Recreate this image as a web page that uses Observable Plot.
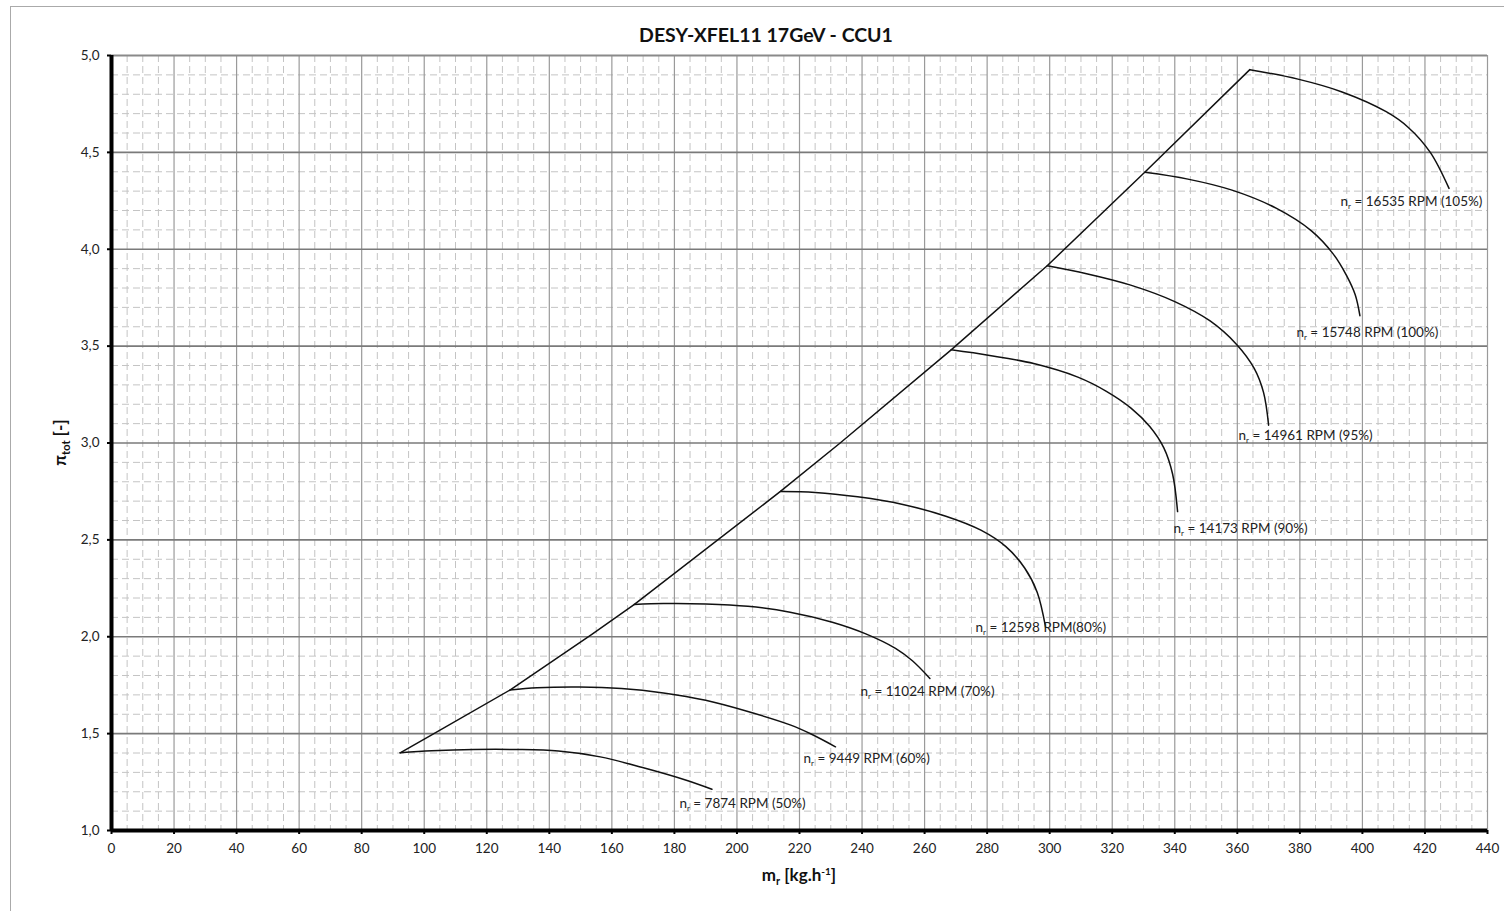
<!DOCTYPE html>
<html><head><meta charset="utf-8">
<script src="https://cdn.jsdelivr.net/npm/d3@7"></script>
<script src="https://cdn.jsdelivr.net/npm/@observablehq/plot@0.6"></script>
<style>
body{margin:0;background:#fff;font-family:Lato,"Open Sans",sans-serif;}
#wrap{position:relative;width:1504px;height:911px;overflow:hidden;}
#title{height:45px;box-sizing:border-box;padding-top:25px;line-height:20px;width:1532px;text-align:center;font-weight:bold;font-size:19.5px;color:#111;}
#frame{position:absolute;left:10px;top:6px;width:1500px;height:910px;border-left:1px solid #aaa;border-top:1px solid #aaa;box-sizing:border-box;pointer-events:none;}
</style></head><body>
<div id="wrap"><div id="frame"></div><div id="title">DESY-XFEL11 17GeV - CCU1</div><div id="chart"></div></div>
<script>
// Surge line
const surgeX = [92.3, 103.1, 127.4, 153.6, 167.1, 213.9, 233.0, 268.5, 299.2, 330.4, 364.0];
const surgeY = [1.401, 1.500, 1.725, 2.012, 2.166, 2.750, 3.000, 3.481, 3.915, 4.397, 4.927];

// Speed lines
const s50x = [92.3, 102.4, 115.9, 129.4, 142.9, 156.3, 169.8, 183.3, 192.0];
const s50y = [1.401, 1.411, 1.418, 1.418, 1.410, 1.380, 1.325, 1.262, 1.213];
const s60x = [127.4, 136.1, 149.6, 163.1, 176.5, 190.0, 203.5, 217.0, 223.7, 231.5];
const s60y = [1.725, 1.737, 1.741, 1.733, 1.710, 1.672, 1.614, 1.545, 1.498, 1.432];
const s70x = [167.1, 176.5, 190.0, 203.5, 217.0, 230.5, 241.2, 250.7, 256.1, 261.7];
const s70y = [2.166, 2.171, 2.169, 2.157, 2.127, 2.075, 2.015, 1.940, 1.876, 1.785];
const s80x = [213.9, 225.0, 238.6, 252.7, 266.8, 278.0, 286.0, 292.0, 296.0, 298.7];
const s80y = [2.750, 2.745, 2.722, 2.684, 2.622, 2.550, 2.465, 2.355, 2.230, 2.048];
const s90x = [268.5, 280.8, 294.9, 309.0, 318.0, 326.0, 332.0, 336.5, 339.3, 340.9];
const s90y = [3.481, 3.452, 3.410, 3.340, 3.268, 3.180, 3.085, 2.975, 2.840, 2.646];
const s95x = [299.2, 311.8, 325.9, 340.0, 351.3, 359.7, 365.4, 368.4, 370.0];
const s95y = [3.915, 3.874, 3.815, 3.730, 3.630, 3.510, 3.385, 3.260, 3.092];
const s100x = [330.4, 344.2, 358.3, 372.4, 383.7, 390.7, 394.9, 397.7, 399.2];
const s100y = [4.397, 4.362, 4.305, 4.212, 4.095, 3.975, 3.865, 3.765, 3.657];
const s105x = [364.0, 379.4, 393.5, 407.6, 414.6, 421.7, 427.7];
const s105y = [4.927, 4.878, 4.812, 4.710, 4.630, 4.500, 4.314];

// Curve labels
const labelText = ["n_r = 7874 RPM (50%)", "n_r = 9449 RPM (60%)", "n_r = 11024 RPM (70%)", "n_r = 12598 RPM(80%)",
  "n_r = 14173 RPM (90%)", "n_r = 14961 RPM (95%)", "n_r = 15748 RPM (100%)", "n_r = 16535 RPM (105%)"];
const labelX = [181.6, 221.3, 239.5, 276.3, 339.6, 360.4, 378.9, 393.0];
const labelY = [1.139, 1.372, 1.717, 2.048, 2.559, 3.039, 3.570, 4.246];

// Ticks
const xTicks = d3.range(0, 441, 20);
const yTicks = [1.0, 1.5, 2.0, 2.5, 3.0, 3.5, 4.0, 4.5, 5.0];
const xMinor = d3.range(0, 441, 5).filter(v => v % 20 !== 0);
const yMinor = d3.range(10, 50).filter(v => v % 5 !== 0).map(v => v / 10);
const yMajorInner = [1.5, 2.0, 2.5, 3.0, 3.5, 4.0, 4.5];

const surge = surgeX.map((x, i) => ({x, y: surgeY[i]}));
const speeds = [[s50x,s50y],[s60x,s60y],[s70x,s70y],[s80x,s80y],[s90x,s90y],[s95x,s95y],[s100x,s100y],[s105x,s105y]]
  .flatMap(([xs, ys], k) => xs.map((x, i) => ({x, y: ys[i], k})));
const labels = labelText.map((t, i) => ({t, x: labelX[i], y: labelY[i]}));

const fmt = d => d.toFixed(1).replace(".", ",");

const chart = Plot.plot({
  width: 1504, height: 866,
  marginLeft: 111, marginRight: 17, marginTop: 10, marginBottom: 81,
  style: {fontFamily: "Lato, 'Open Sans', sans-serif", fontSize: "13px", color: "#222", background: "white"},
  x: {domain: [0, 440]},
  y: {domain: [1, 5]},
  marks: [
    Plot.ruleX(xMinor, {stroke: "#c4c4c4", strokeWidth: 1, strokeDasharray: "7,4"}),
    Plot.ruleY(yMinor, {stroke: "#c4c4c4", strokeWidth: 1, strokeDasharray: "7,4"}),
    Plot.ruleX(xTicks.filter(v => v > 0), {stroke: "#9a9a9a", strokeWidth: 1.2}),
    Plot.ruleY(yMajorInner, {stroke: "#7a7a7a", strokeWidth: 1.6}),
    Plot.ruleY([5], {stroke: "#8a8a8a", strokeWidth: 2}),
    Plot.axisX({ticks: xTicks, tickFormat: d => d, tickSize: 4, tickPadding: 9, stroke: "#000", strokeWidth: 2, label: null, fontSize: 13.5}),
    Plot.axisY({ticks: yTicks, tickFormat: fmt, tickSize: 4, tickPadding: 8, stroke: "#000", strokeWidth: 2, label: null, fontSize: 13.5}),
    Plot.line(surge, {x: "x", y: "y", stroke: "#111", strokeWidth: 1.5}),
    Plot.line(speeds, {x: "x", y: "y", z: "k", stroke: "#111", strokeWidth: 1.5, curve: "catmull-rom"}),
    Plot.text(labels, {x: "x", y: "y", text: "t", textAnchor: "start", fill: "#222", fontSize: 13.5}),
    Plot.ruleX([0], {stroke: "#000", strokeWidth: 4}),
    Plot.ruleY([1], {stroke: "#000", strokeWidth: 4})
  ]
});
document.getElementById("chart").appendChild(chart);

const svg = d3.select(chart);
svg.selectAll("text").each(function () {
  const t = this.textContent;
  if (t.startsWith("n_r")) {
    const rest = t.slice(3);
    const s = d3.select(this);
    s.text(null);
    s.append("tspan").text("n");
    s.append("tspan").attr("dy", 3).attr("font-size", "8px").text("r");
    s.append("tspan").attr("dy", -3).text(rest);
  }
});
const xs = chart.scale("x"), ys = chart.scale("y");
const xl = svg.append("text").attr("x", xs.apply(220)).attr("y", 836).attr("text-anchor", "middle")
  .attr("font-weight", "bold").attr("font-size", 17).attr("fill", "#111");
xl.append("tspan").text("m");
xl.append("tspan").attr("dy", 4).attr("font-size", 11).text("r");
xl.append("tspan").attr("dy", -4).text(" [kg.h");
xl.append("tspan").attr("dy", -6).attr("font-size", 10).text("-1");
xl.append("tspan").attr("dy", 6).text("]");
const yl = svg.append("text").attr("transform", `translate(66,${ys.apply(3)}) rotate(-90)`).attr("text-anchor", "middle")
  .attr("font-weight", "bold").attr("font-size", 17).attr("fill", "#111");
yl.append("tspan").text("π");
yl.append("tspan").attr("dy", 4).attr("font-size", 11).text("tot");
yl.append("tspan").attr("dy", -4).text(" [-]");
</script>
</body></html>
